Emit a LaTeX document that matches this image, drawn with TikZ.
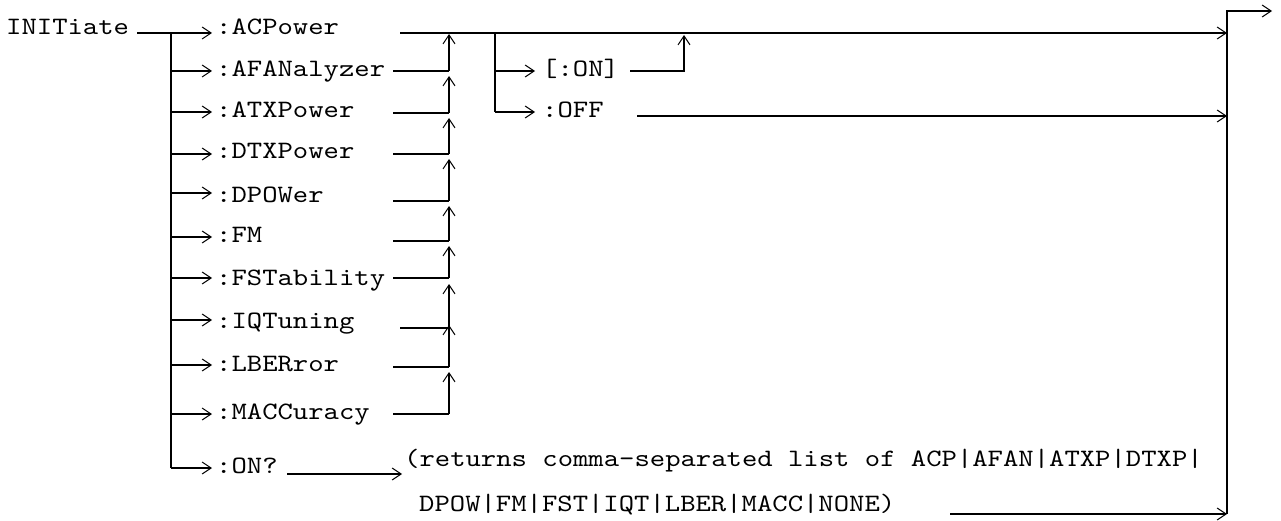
\documentclass[tikz,border=0pt]{standalone}
\usepackage{fontspec}
\newfontfamily\cour{lmmono10-regular.otf}[FakeStretch=1.17]
\usetikzlibrary{arrows.meta}
\begin{document}
\begin{tikzpicture}[x=1pt,y=-1pt,
  wire/.style={line width=1.6pt},
  arr/.style={wire,-{Straight Barb[length=9pt,width=12pt,line width=1pt]}},
  lbl/.style={font=\cour\fontsize{25}{28}\selectfont, anchor=base west, inner sep=0pt},
]
\useasboundingbox (0,0) rectangle (1281,521);

% root
\node[lbl] (init) at (6,35) {INITiate};
\coordinate (init-out) at (137,33);
\coordinate (br-top) at (171,33);
\coordinate (br-bot) at (171,468);
\draw[wire] (br-top) -- (br-bot);

% left branch labels and arrows
\foreach \n/\t/\ya/\yb in {
  acp/:ACPower/33/35, afan/:AFANalyzer/71/77, atxp/:ATXPower/112/118,
  dtxp/:DTXPower/154/159, dpow/:DPOWer/193/203, fm/:FM/237/243,
  fst/:FSTability/278/285, iqt/:IQTuning/320/328, lber/:LBERror/365/371,
  macc/:MACCuracy/414/419, onq/:ON?/468/473}{
  \node[lbl] (\n) at (216,\yb) {\t};
  \coordinate (\n-br) at (171,\ya);
  \coordinate (\n-in) at (212,\ya);
}
\draw[arr] (init-out) -- (acp-in);
\foreach \n in {afan,atxp,dtxp,dpow,fm,fst,iqt,lber,macc,onq}{
  \draw[arr] (\n-br) -- (\n-in);
}

% right-hand collector at x=449
\foreach \n/\x/\y/\tip in {
  afan/393/71/34, atxp/393/113/76, dtxp/393/154/118, dpow/393/201/159,
  fm/393/241/206, fst/393/278/246, iqt/400/328/284, lber/393/367/325,
  macc/393/414/372}{
  \coordinate (\n-out) at (\x,\y);
  \coordinate (\n-col) at (449,\y);
  \coordinate (\n-up) at (449,\tip);
  \draw[wire] (\n-out) -- (\n-col);
  \draw[arr] (\n-col) -- (\n-up);
}

% exit bus at the right
\coordinate (bus-top) at (1227,11);
\coordinate (bus-bot) at (1227,514);
\coordinate (exit) at (1272,11);
\draw[arr] (bus-bot) -- (bus-top) -- (exit);

% top line from ACPower
\coordinate (acp-out) at (400,33);
\coordinate (acp-bus) at (1227,33);
\draw[arr] (acp-out) -- (acp-bus);

% ON / OFF branch
\coordinate (sw-top) at (495,33);
\coordinate (sw-on) at (495,71);
\coordinate (sw-off) at (495,112);
\coordinate (on-in) at (535,71);
\coordinate (off-in) at (535,112);
\draw[wire] (sw-top) -- (sw-off);
\draw[arr] (sw-on) -- (on-in);
\draw[arr] (sw-off) -- (off-in);
\node[lbl] (on) at (542,77) {[:ON]};
\node[lbl] (off) at (542,118) {:OFF};
\coordinate (on-out) at (630,71);
\coordinate (on-corner) at (684,71);
\coordinate (on-up) at (684,35);
\draw[arr] (on-out) -- (on-corner) -- (on-up);
\coordinate (off-out) at (637,116);
\coordinate (off-bus) at (1227,116);
\draw[arr] (off-out) -- (off-bus);

% ON? query
\coordinate (onq-out) at (287,474);
\coordinate (ret-in) at (402,474);
\draw[arr] (onq-out) -- (ret-in);
\node[lbl] (ret1) at (404,466) {(returns comma-separated list of ACP|AFAN|ATXP|DTXP|};
\node[lbl] (ret2) at (419,511) {DPOW|FM|FST|IQT|LBER|MACC|NONE)};
\coordinate (ret-out) at (950,514);
\coordinate (ret-bus) at (1227,514);
\draw[arr] (ret-out) -- (ret-bus);
\end{tikzpicture}
\end{document}
